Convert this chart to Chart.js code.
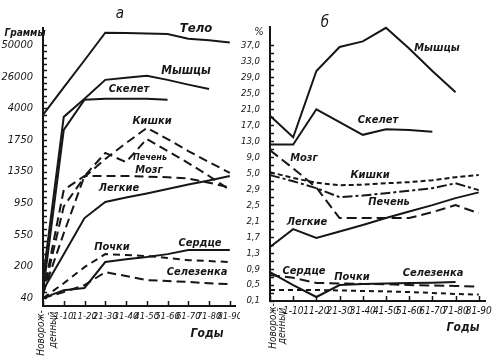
<!DOCTYPE html>
<html>
<head>
<meta charset="utf-8">
<script src="https://cdn.jsdelivr.net/npm/chart.js@4.4.1/dist/chart.umd.min.js"></script>
<style>
  html, body { margin: 0; padding: 0; background: #fff; }
  #wrap { position: relative; width: 500px; height: 361px; overflow: hidden; }
  canvas { position: absolute; top: 0; }
</style>
</head>
<body>
<div id="wrap">
  <canvas id="chartA" width="240" height="361" style="left:0"></canvas>
  <canvas id="chartB" width="260" height="361" style="left:240px"></canvas>
</div>
<script>
var ages = ['Новорож-денный', '1-10', '11-20', '21-30', '31-40', '41-50', '51-60', '61-70', '71-80', '81-90'];

// panel а: values are positions on the stepped gram axis (0 = 40 g ... 8 = 50000 g)
var gramTicks = ['40', '200', '550', '950', '1350', '1750', '4000', '26000', '50000'];
var bodyA      = [5.79, 6.66, 7.52, 8.39, 8.38, 8.37, 8.35, 8.2, 8.15, 8.08];
var musclesA   = [0.6, 5.73, 6.3, 6.9, 6.97, 7.03, 6.9, 6.75, 6.61, null];
var skeletonA  = [0.2, 5.32, 6.27, 6.3, 6.3, 6.3, 6.27, null, null, null];
var intestineA = [0.1, 2.9, 3.83, 4.4, 4.9, 5.38, 5.03, 4.65, 4.3, 3.96];
var liverA     = [0.15, 2.05, 3.86, 4.59, 4.3, 5.03, 4.65, 4.27, 3.86, 3.42];
var brainA     = [0.1, 3.42, 3.86, 3.86, 3.86, 3.84, 3.82, 3.78, 3.65, 3.5];
var lungsA     = [0.25, 1.39, 2.53, 3.04, 3.18, 3.31, 3.45, 3.59, 3.72, 3.86];
var heartA     = [0, 0.25, 0.32, 1.14, 1.23, 1.3, 1.39, 1.52, 1.52, 1.52];
var kidneysA   = [0, 0.47, 0.98, 1.39, 1.36, 1.33, 1.27, 1.2, 1.17, 1.14];
var spleenA    = [0, 0.19, 0.41, 0.82, 0.7, 0.57, 0.54, 0.51, 0.47, 0.44];

// panel б: values are positions on the stepped percent axis (0 = 0,1 % ... 16 = 37,0 %)
var percentTicks = ['0,1', '0,5', '0,9', '1,3', '1,7', '2,1', '2,5', '2,9', '5,0', '9,0', '13,0', '17,0', '21,0', '25,0', '29,0', '33,0', '37,0'];
var musclesB   = [11.6, 10.25, 14.4, 15.9, 16.25, 17.1, 15.8, 14.4, 13.06, null];
var skeletonB  = [9.8, 9.8, 12.0, 11.2, 10.4, 10.75, 10.7, 10.6, null, null];
var brainB     = [9.44, 8.3, 7.1, 5.19, 5.19, 5.19, 5.19, 5.56, 6.0, 5.5];
var intestineB = [8.06, 7.7, 7.4, 7.25, 7.28, 7.37, 7.44, 7.56, 7.75, 7.88];
var liverB     = [7.88, 7.5, 7.06, 6.5, 6.6, 6.75, 6.9, 7.06, 7.37, 6.94];
var lungsB     = [3.38, 4.5, 3.94, 4.35, 4.76, 5.19, 5.6, 6.0, 6.44, 6.8];
var heartB     = [1.81, 1.0, 0.25, 1.0, 1.06, 1.1, 1.12, 1.15, 1.19, null];
var kidneysB   = [1.63, 1.45, 1.13, 1.1, 1.07, 1.05, 1.0, 0.97, 0.94, 0.9];
var spleenB    = [0.69, 0.69, 0.69, 0.66, 0.63, 0.6, 0.56, 0.5, 0.44, 0.4];

var ink = '#161616';
var family = '"DejaVu Sans Condensed", "DejaVu Sans", sans-serif';

function pts(arr) {
  return arr.map(function (v, i) { return { x: i, y: v }; });
}

function line(label, arr, dash) {
  return {
    label: label,
    data: pts(arr),
    borderColor: ink,
    borderWidth: 2,
    borderDash: dash || [],
    pointRadius: 0,
    fill: false,
    tension: 0,
    clip: false
  };
}

// short ticks drawn inward from the axes, plus the lettering on the plot
function notes(items) {
  return {
    id: 'notes',
    afterDraw: function (chart) {
      var ctx = chart.ctx, xs = chart.scales.x, ys = chart.scales.y;
      ctx.save();
      ctx.strokeStyle = ink;
      ctx.lineWidth = 1.5;
      ctx.beginPath();
      xs.ticks.forEach(function (t) {
        var px = Math.round(xs.getPixelForValue(t.value)) + 0.5;
        ctx.moveTo(px, xs.top);
        ctx.lineTo(px, xs.top - 5);
      });
      ys.ticks.forEach(function (t) {
        var py = Math.round(ys.getPixelForValue(t.value)) + 0.5;
        ctx.moveTo(ys.right, py);
        ctx.lineTo(ys.right + 4, py);
      });
      ctx.stroke();

      ctx.fillStyle = ink;
      ctx.textAlign = 'center';
      ctx.textBaseline = 'middle';
      items.forEach(function (t) {
        ctx.save();
        ctx.translate(t.x, t.y);
        if (t.rot) ctx.rotate(t.rot);
        ctx.font = 'italic ' + (t.thin ? '' : 'bold ') + t.size + 'px ' + family;
        ctx.fillText(t.text, 0, 0);
        ctx.restore();
      });
      ctx.restore();
    }
  };
}

function isWhole(v) {
  return Math.abs(v - Math.round(v)) < 1e-6;
}

function makeChart(id, o) {
  return new Chart(document.getElementById(id), {
    type: 'line',
    data: { datasets: o.datasets },
    options: {
      responsive: false,
      animation: false,
      devicePixelRatio: 1,
      layout: { padding: { top: o.top, right: o.right, left: 0, bottom: 0 } },
      plugins: { legend: { display: false }, tooltip: { enabled: false } },
      scales: {
        x: {
          type: 'linear',
          min: 0,
          max: o.xMax,
          afterBuildTicks: function (s) {
            s.ticks = ages.map(function (a, i) { return { value: i }; });
          },
          afterFit: function (s) { s.height = o.xHeight; },
          grid: { display: false },
          border: { color: ink, width: 2 },
          ticks: {
            autoSkip: false,
            maxRotation: 0,
            minRotation: 0,
            padding: o.xPad,
            color: ink,
            font: { family: family, size: o.xSize, style: 'italic' },
            callback: function (v) { return v === 0 ? '' : ages[Math.round(v)]; }
          }
        },
        y: {
          type: 'linear',
          min: o.yMin,
          max: o.yMax,
          afterBuildTicks: function (s) {
            var t = [];
            for (var v = 0; v <= o.labels.length - 1 + 1e-6; v += o.minor) t.push({ value: Math.round(v * 100) / 100 });
            s.ticks = t;
          },
          afterFit: function (s) { s.width = o.yWidth; },
          grid: { display: false },
          border: { color: ink, width: 2 },
          ticks: {
            autoSkip: false,
            padding: 2,
            color: ink,
            font: { family: family, size: o.ySize, style: 'italic' },
            callback: function (v) { return isWhole(v) ? o.labels[Math.round(v)] : ''; }
          }
        }
      }
    },
    plugins: [notes(o.notes)]
  });
}

makeChart('chartA', {
  top: 28, right: 5, xMax: 9.25, xHeight: 55, xPad: -3, xSize: 9.5, yMin: -0.25, yMax: 8.54, yWidth: 43, ySize: 11, minor: 0.2,
  labels: gramTicks,
  datasets: [
    line('Тело', bodyA),
    line('Мышцы', musclesA),
    line('Скелет', skeletonA),
    line('Кишки', intestineA, [9, 5]),
    line('Печень', liverA, [9, 5]),
    line('Мозг', brainA, [9, 5]),
    line('Легкие', lungsA),
    line('Сердце', heartA),
    line('Почки', kidneysA, [7, 5]),
    line('Селезенка', spleenA, [9, 5])
  ],
  notes: [
    { text: 'а', x: 120, y: 14, size: 15, thin: true },
    { text: 'Граммы', x: 25, y: 33, size: 10 },
    { text: 'Тело', x: 196, y: 29, size: 13 },
    { text: 'Мышцы', x: 186, y: 71, size: 12 },
    { text: 'Скелет', x: 129, y: 89, size: 11 },
    { text: 'Кишки', x: 152, y: 121, size: 11 },
    { text: 'Печень', x: 150, y: 158, size: 9 },
    { text: 'Мозг', x: 149, y: 170, size: 11 },
    { text: 'Легкие', x: 119, y: 188, size: 11 },
    { text: 'Почки', x: 112, y: 247, size: 11 },
    { text: 'Сердце', x: 200, y: 243, size: 11 },
    { text: 'Селезенка', x: 197, y: 272, size: 11 },
    { text: 'Годы', x: 207, y: 334, size: 12 },
    { text: 'Новорож-', x: 41, y: 333, size: 10, rot: -Math.PI / 2, thin: true },
    { text: 'денный', x: 53, y: 330, size: 10, rot: -Math.PI / 2, thin: true }
  ]
});

makeChart('chartB', {
  top: 27, right: 15, xMax: 9.27, xHeight: 60, xPad: -4, xSize: 10, yMin: 0, yMax: 17.15, yWidth: 30, ySize: 9.5, minor: 0.5,
  labels: percentTicks,
  datasets: [
    line('Мышцы', musclesB),
    line('Скелет', skeletonB),
    line('Мозг', brainB, [10, 5]),
    line('Кишки', intestineB, [5, 3]),
    line('Печень', liverB, [10, 3, 3, 3]),
    line('Легкие', lungsB),
    line('Сердце', heartB),
    line('Почки', kidneysB, [10, 5]),
    line('Селезенка', spleenB, [5, 4])
  ],
  notes: [
    { text: 'б', x: 85, y: 23, size: 15, thin: true },
    { text: '%', x: 19, y: 32, size: 11, thin: true },
    { text: 'Мышцы', x: 197, y: 48, size: 11 },
    { text: 'Скелет', x: 138, y: 120, size: 11 },
    { text: 'Мозг', x: 64, y: 158, size: 11 },
    { text: 'Кишки', x: 130, y: 175, size: 11 },
    { text: 'Печень', x: 149, y: 202, size: 11 },
    { text: 'Легкие', x: 67, y: 222, size: 11 },
    { text: 'Сердце', x: 64, y: 271, size: 11 },
    { text: 'Почки', x: 112, y: 277, size: 11 },
    { text: 'Селезенка', x: 193, y: 273, size: 11 },
    { text: 'Годы', x: 223, y: 328, size: 12 },
    { text: 'Новорож-', x: 33, y: 326, size: 10, rot: -Math.PI / 2, thin: true },
    { text: 'денный', x: 42, y: 326, size: 10, rot: -Math.PI / 2, thin: true }
  ]
});
</script>
</body>
</html>
